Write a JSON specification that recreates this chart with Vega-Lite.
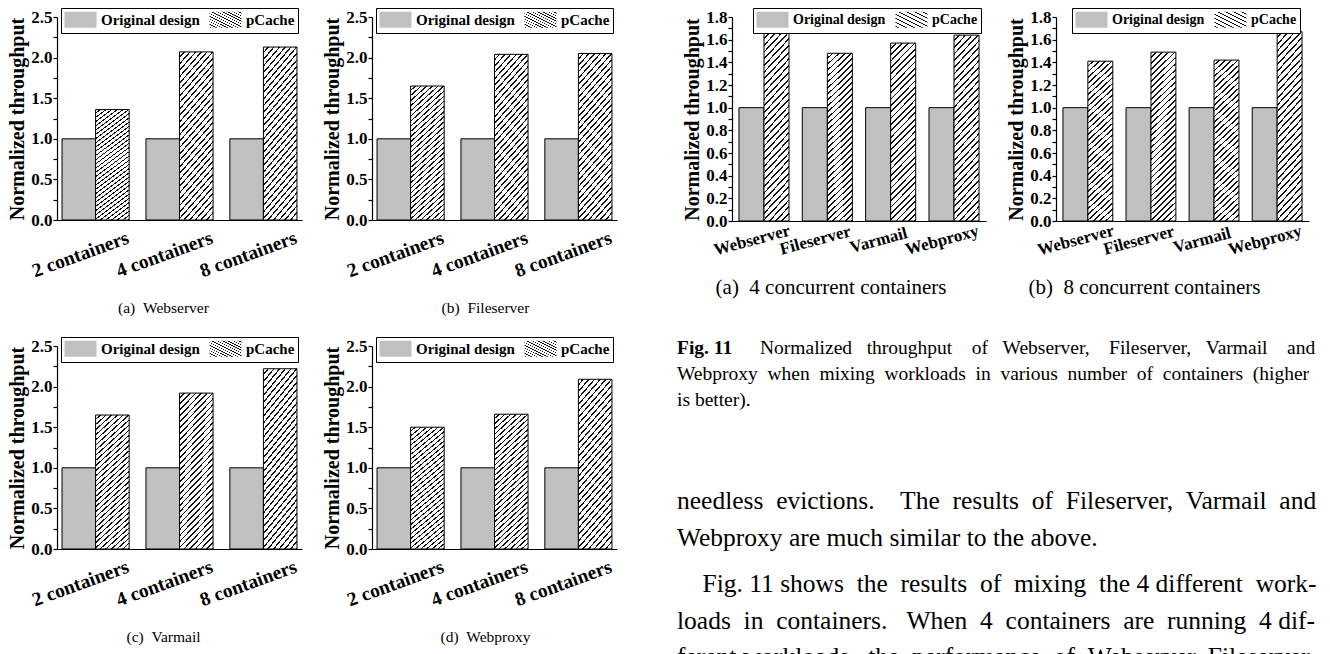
{
  "$schema": "https://vega.github.io/schema/vega-lite/v6.json",
  "background": "white",
  "padding": {"left": 7, "top": 7, "right": 0, "bottom": 0},
  "params": [
    {"name": "hatch10", "value": {"gradient": "linear", "x1": 0, "y1": 0, "x2": 0.265, "y2": 1.167, "stops": [
      {"offset":0,"color":"#fff"},{"offset":0.0225,"color":"#fff"},{"offset":0.0225,"color":"#111"},{"offset":0.03125,"color":"#111"},
      {"offset":0.03125,"color":"#fff"},{"offset":0.05375,"color":"#fff"},{"offset":0.05375,"color":"#111"},{"offset":0.0625,"color":"#111"},
      {"offset":0.0625,"color":"#fff"},{"offset":0.085,"color":"#fff"},{"offset":0.085,"color":"#111"},{"offset":0.09375,"color":"#111"},
      {"offset":0.09375,"color":"#fff"},{"offset":0.11625,"color":"#fff"},{"offset":0.11625,"color":"#111"},{"offset":0.125,"color":"#111"},
      {"offset":0.125,"color":"#fff"},{"offset":0.1475,"color":"#fff"},{"offset":0.1475,"color":"#111"},{"offset":0.15625,"color":"#111"},
      {"offset":0.15625,"color":"#fff"},{"offset":0.17875,"color":"#fff"},{"offset":0.17875,"color":"#111"},{"offset":0.1875,"color":"#111"},
      {"offset":0.1875,"color":"#fff"},{"offset":0.21,"color":"#fff"},{"offset":0.21,"color":"#111"},{"offset":0.21875,"color":"#111"},
      {"offset":0.21875,"color":"#fff"},{"offset":0.24125,"color":"#fff"},{"offset":0.24125,"color":"#111"},{"offset":0.25,"color":"#111"},
      {"offset":0.25,"color":"#fff"},{"offset":0.2725,"color":"#fff"},{"offset":0.2725,"color":"#111"},{"offset":0.28125,"color":"#111"},
      {"offset":0.28125,"color":"#fff"},{"offset":0.30375,"color":"#fff"},{"offset":0.30375,"color":"#111"},{"offset":0.3125,"color":"#111"},
      {"offset":0.3125,"color":"#fff"},{"offset":0.335,"color":"#fff"},{"offset":0.335,"color":"#111"},{"offset":0.34375,"color":"#111"},
      {"offset":0.34375,"color":"#fff"},{"offset":0.36625,"color":"#fff"},{"offset":0.36625,"color":"#111"},{"offset":0.375,"color":"#111"},
      {"offset":0.375,"color":"#fff"},{"offset":0.3975,"color":"#fff"},{"offset":0.3975,"color":"#111"},{"offset":0.40625,"color":"#111"},
      {"offset":0.40625,"color":"#fff"},{"offset":0.42875,"color":"#fff"},{"offset":0.42875,"color":"#111"},{"offset":0.4375,"color":"#111"},
      {"offset":0.4375,"color":"#fff"},{"offset":0.46,"color":"#fff"},{"offset":0.46,"color":"#111"},{"offset":0.46875,"color":"#111"},
      {"offset":0.46875,"color":"#fff"},{"offset":0.49125,"color":"#fff"},{"offset":0.49125,"color":"#111"},{"offset":0.5,"color":"#111"},
      {"offset":0.5,"color":"#fff"},{"offset":0.5225,"color":"#fff"},{"offset":0.5225,"color":"#111"},{"offset":0.53125,"color":"#111"},
      {"offset":0.53125,"color":"#fff"},{"offset":0.55375,"color":"#fff"},{"offset":0.55375,"color":"#111"},{"offset":0.5625,"color":"#111"},
      {"offset":0.5625,"color":"#fff"},{"offset":0.585,"color":"#fff"},{"offset":0.585,"color":"#111"},{"offset":0.59375,"color":"#111"},
      {"offset":0.59375,"color":"#fff"},{"offset":0.61625,"color":"#fff"},{"offset":0.61625,"color":"#111"},{"offset":0.625,"color":"#111"},
      {"offset":0.625,"color":"#fff"},{"offset":0.6475,"color":"#fff"},{"offset":0.6475,"color":"#111"},{"offset":0.65625,"color":"#111"},
      {"offset":0.65625,"color":"#fff"},{"offset":0.67875,"color":"#fff"},{"offset":0.67875,"color":"#111"},{"offset":0.6875,"color":"#111"},
      {"offset":0.6875,"color":"#fff"},{"offset":0.71,"color":"#fff"},{"offset":0.71,"color":"#111"},{"offset":0.71875,"color":"#111"},
      {"offset":0.71875,"color":"#fff"},{"offset":0.74125,"color":"#fff"},{"offset":0.74125,"color":"#111"},{"offset":0.75,"color":"#111"},
      {"offset":0.75,"color":"#fff"},{"offset":0.7725,"color":"#fff"},{"offset":0.7725,"color":"#111"},{"offset":0.78125,"color":"#111"},
      {"offset":0.78125,"color":"#fff"},{"offset":0.80375,"color":"#fff"},{"offset":0.80375,"color":"#111"},{"offset":0.8125,"color":"#111"},
      {"offset":0.8125,"color":"#fff"},{"offset":0.835,"color":"#fff"},{"offset":0.835,"color":"#111"},{"offset":0.84375,"color":"#111"},
      {"offset":0.84375,"color":"#fff"},{"offset":0.86625,"color":"#fff"},{"offset":0.86625,"color":"#111"},{"offset":0.875,"color":"#111"},
      {"offset":0.875,"color":"#fff"},{"offset":0.8975,"color":"#fff"},{"offset":0.8975,"color":"#111"},{"offset":0.90625,"color":"#111"},
      {"offset":0.90625,"color":"#fff"},{"offset":0.92875,"color":"#fff"},{"offset":0.92875,"color":"#111"},{"offset":0.9375,"color":"#111"},
      {"offset":0.9375,"color":"#fff"},{"offset":0.96,"color":"#fff"},{"offset":0.96,"color":"#111"},{"offset":0.96875,"color":"#111"},
      {"offset":0.96875,"color":"#fff"},{"offset":0.99125,"color":"#fff"},{"offset":0.99125,"color":"#111"},{"offset":1,"color":"#111"}
    ]}},
    {"name": "hatch11", "expr": "merge(hatch10, {x2: 0.16, y2: 1.12})"},
    {"name": "hatchLeg", "value": {"gradient": "linear", "x1": 0, "y1": 0, "x2": 1.2, "y2": 0.6, "stops": [
      {"offset":0,"color":"#fff"},{"offset":0.09,"color":"#fff"},{"offset":0.09,"color":"#111"},{"offset":0.125,"color":"#111"},
      {"offset":0.125,"color":"#fff"},{"offset":0.215,"color":"#fff"},{"offset":0.215,"color":"#111"},{"offset":0.25,"color":"#111"},
      {"offset":0.25,"color":"#fff"},{"offset":0.34,"color":"#fff"},{"offset":0.34,"color":"#111"},{"offset":0.375,"color":"#111"},
      {"offset":0.375,"color":"#fff"},{"offset":0.465,"color":"#fff"},{"offset":0.465,"color":"#111"},{"offset":0.5,"color":"#111"},
      {"offset":0.5,"color":"#fff"},{"offset":0.59,"color":"#fff"},{"offset":0.59,"color":"#111"},{"offset":0.625,"color":"#111"},
      {"offset":0.625,"color":"#fff"},{"offset":0.715,"color":"#fff"},{"offset":0.715,"color":"#111"},{"offset":0.75,"color":"#111"},
      {"offset":0.75,"color":"#fff"},{"offset":0.84,"color":"#fff"},{"offset":0.84,"color":"#111"},{"offset":0.875,"color":"#111"},
      {"offset":0.875,"color":"#fff"},{"offset":0.965,"color":"#fff"},{"offset":0.965,"color":"#111"},{"offset":1,"color":"#111"}
    ]}}
  ],
  "datasets": {
    "fig10": [
      {"workload":"Webserver","config":"2 containers","method":"Original design","value":1.0},
      {"workload":"Webserver","config":"2 containers","method":"pCache","value":1.36},
      {"workload":"Webserver","config":"4 containers","method":"Original design","value":1.0},
      {"workload":"Webserver","config":"4 containers","method":"pCache","value":2.07},
      {"workload":"Webserver","config":"8 containers","method":"Original design","value":1.0},
      {"workload":"Webserver","config":"8 containers","method":"pCache","value":2.13},
      {"workload":"Fileserver","config":"2 containers","method":"Original design","value":1.0},
      {"workload":"Fileserver","config":"2 containers","method":"pCache","value":1.65},
      {"workload":"Fileserver","config":"4 containers","method":"Original design","value":1.0},
      {"workload":"Fileserver","config":"4 containers","method":"pCache","value":2.04},
      {"workload":"Fileserver","config":"8 containers","method":"Original design","value":1.0},
      {"workload":"Fileserver","config":"8 containers","method":"pCache","value":2.05},
      {"workload":"Varmail","config":"2 containers","method":"Original design","value":1.0},
      {"workload":"Varmail","config":"2 containers","method":"pCache","value":1.65},
      {"workload":"Varmail","config":"4 containers","method":"Original design","value":1.0},
      {"workload":"Varmail","config":"4 containers","method":"pCache","value":1.92},
      {"workload":"Varmail","config":"8 containers","method":"Original design","value":1.0},
      {"workload":"Varmail","config":"8 containers","method":"pCache","value":2.22},
      {"workload":"Webproxy","config":"2 containers","method":"Original design","value":1.0},
      {"workload":"Webproxy","config":"2 containers","method":"pCache","value":1.5},
      {"workload":"Webproxy","config":"4 containers","method":"Original design","value":1.0},
      {"workload":"Webproxy","config":"4 containers","method":"pCache","value":1.66},
      {"workload":"Webproxy","config":"8 containers","method":"Original design","value":1.0},
      {"workload":"Webproxy","config":"8 containers","method":"pCache","value":2.09}
    ],
    "fig11": [
      {"set":"4","workload":"Webserver","method":"Original design","value":1.0},
      {"set":"4","workload":"Webserver","method":"pCache","value":1.66},
      {"set":"4","workload":"Fileserver","method":"Original design","value":1.0},
      {"set":"4","workload":"Fileserver","method":"pCache","value":1.48},
      {"set":"4","workload":"Varmail","method":"Original design","value":1.0},
      {"set":"4","workload":"Varmail","method":"pCache","value":1.57},
      {"set":"4","workload":"Webproxy","method":"Original design","value":1.0},
      {"set":"4","workload":"Webproxy","method":"pCache","value":1.64},
      {"set":"8","workload":"Webserver","method":"Original design","value":1.0},
      {"set":"8","workload":"Webserver","method":"pCache","value":1.41},
      {"set":"8","workload":"Fileserver","method":"Original design","value":1.0},
      {"set":"8","workload":"Fileserver","method":"pCache","value":1.49},
      {"set":"8","workload":"Varmail","method":"Original design","value":1.0},
      {"set":"8","workload":"Varmail","method":"pCache","value":1.42},
      {"set":"8","workload":"Webproxy","method":"Original design","value":1.0},
      {"set":"8","workload":"Webproxy","method":"pCache","value":1.67}
    ],
    "caption": [
      {"line":1,"lead":"Fig. 11","text":"Normalized \u00a0\u00a0throughput \u00a0\u00a0\u00a0of \u00a0\u00a0Webserver, \u00a0\u00a0\u00a0Fileserver, \u00a0\u00a0Varmail \u00a0\u00a0\u00a0and"},
      {"line":2,"lead":"","text":"Webproxy \u00a0when \u00a0mixing \u00a0workloads \u00a0in \u00a0various \u00a0number \u00a0of \u00a0containers \u00a0(higher"},
      {"line":3,"lead":"","text":"is better)."}
    ],
    "body": [
      {"para":1,"line":1,"text":"needless \u00a0evictions. \u00a0\u00a0\u00a0The \u00a0results \u00a0of \u00a0Fileserver, \u00a0Varmail \u00a0and"},
      {"para":1,"line":2,"text":"Webproxy are much similar to the above."},
      {"para":2,"line":3,"text":"\u200b\u00a0\u00a0\u00a0\u00a0Fig. 11 shows \u00a0the \u00a0results \u00a0of \u00a0mixing \u00a0the 4 different \u00a0work-"},
      {"para":2,"line":4,"text":"loads \u00a0in \u00a0containers. \u00a0\u00a0When \u00a04 \u00a0containers \u00a0are \u00a0running \u00a04 dif-"},
      {"para":2,"line":5,"text":"ferent workloads, \u00a0the \u00a0performance \u00a0of \u00a0Webserver, Fileserver,"}
    ]
  },
  "resolve": {"scale": {"color": "independent", "xOffset": "independent"}, "legend": {"color": "independent"}},
  "spacing": 60,
  "hconcat": [
    {
      "resolve": {"scale": {"color": "independent", "xOffset": "independent"}, "legend": {"color": "independent"}},
      "spacing": 19,
      "vconcat": [
        {
          "resolve": {"scale": {"color": "independent", "xOffset": "independent"}, "legend": {"color": "independent"}},
          "spacing": 20,
          "hconcat": [
            {
              "width": 245, "height": 203,
              "data": {"name": "fig10"},
              "transform": [{"filter": "datum.workload === 'Webserver'"}],
              "title": {"text": "(a)\u00a0\u00a0Webserver", "fontSize": 15.5, "dx": -16, "offset": 21},
              "mark": {"type": "bar", "stroke": "black", "strokeWidth": 1},
              "encoding": {
                "x": {"field": "config", "type": "nominal", "sort": ["2 containers","4 containers","8 containers"], "scale": {"paddingInner": 0.2, "paddingOuter": 0.06}, "axis": {"title": null, "labelAngle": -20, "labelAlign": "center", "labelBaseline": "middle", "labelPadding": 34, "labelOffset": -15, "labelFontSize": 19.5}},
                "xOffset": {"field": "method", "type": "nominal", "scale": {"domain": ["Original design","pCache"]}},
                "y": {"field": "value", "type": "quantitative", "scale": {"domain": [0, 2.5], "nice": false}, "axis": {"title": "Normalized throughput", "values": [0,0.25,0.5,0.75,1,1.25,1.5,1.75,2,2.25,2.5], "labelExpr": "datum.value % 0.5 === 0 ? format(datum.value, '.1f') : ''"}},
                "color": {"field": "method", "type": "nominal", "scale": {"domain": ["Original design","pCache"], "range": ["#c0c0c0", {"expr": "hatch10"}]}, "legend": {"legendX": 4, "legendY": -9, "encode": {"symbols": {"update": {"fill": {"value": {"expr": "datum.value === 'pCache' ? hatchLeg : '#c0c0c0'"}}}}}}}
              }
            },
            {
              "width": 245, "height": 203,
              "data": {"name": "fig10"},
              "transform": [{"filter": "datum.workload === 'Fileserver'"}],
              "title": {"text": "(b)\u00a0\u00a0Fileserver", "fontSize": 15.5, "dx": -9, "offset": 21},
              "mark": {"type": "bar", "stroke": "black", "strokeWidth": 1},
              "encoding": {
                "x": {"field": "config", "type": "nominal", "sort": ["2 containers","4 containers","8 containers"], "scale": {"paddingInner": 0.2, "paddingOuter": 0.06}, "axis": {"title": null, "labelAngle": -20, "labelAlign": "center", "labelBaseline": "middle", "labelPadding": 34, "labelOffset": -15, "labelFontSize": 19.5}},
                "xOffset": {"field": "method", "type": "nominal", "scale": {"domain": ["Original design","pCache"]}},
                "y": {"field": "value", "type": "quantitative", "scale": {"domain": [0, 2.5], "nice": false}, "axis": {"title": "Normalized throughput", "values": [0,0.25,0.5,0.75,1,1.25,1.5,1.75,2,2.25,2.5], "labelExpr": "datum.value % 0.5 === 0 ? format(datum.value, '.1f') : ''"}},
                "color": {"field": "method", "type": "nominal", "scale": {"domain": ["Original design","pCache"], "range": ["#c0c0c0", {"expr": "hatch10"}]}, "legend": {"legendX": 4, "legendY": -9, "encode": {"symbols": {"update": {"fill": {"value": {"expr": "datum.value === 'pCache' ? hatchLeg : '#c0c0c0'"}}}}}}}
              }
            }
          ]
        },
        {
          "resolve": {"scale": {"color": "independent", "xOffset": "independent"}, "legend": {"color": "independent"}},
          "spacing": 20,
          "hconcat": [
            {
              "width": 245, "height": 203,
              "data": {"name": "fig10"},
              "transform": [{"filter": "datum.workload === 'Varmail'"}],
              "title": {"text": "(c)\u00a0\u00a0Varmail", "fontSize": 15.5, "dx": -16, "offset": 21},
              "mark": {"type": "bar", "stroke": "black", "strokeWidth": 1},
              "encoding": {
                "x": {"field": "config", "type": "nominal", "sort": ["2 containers","4 containers","8 containers"], "scale": {"paddingInner": 0.2, "paddingOuter": 0.06}, "axis": {"title": null, "labelAngle": -20, "labelAlign": "center", "labelBaseline": "middle", "labelPadding": 34, "labelOffset": -15, "labelFontSize": 19.5}},
                "xOffset": {"field": "method", "type": "nominal", "scale": {"domain": ["Original design","pCache"]}},
                "y": {"field": "value", "type": "quantitative", "scale": {"domain": [0, 2.5], "nice": false}, "axis": {"title": "Normalized throughput", "values": [0,0.25,0.5,0.75,1,1.25,1.5,1.75,2,2.25,2.5], "labelExpr": "datum.value % 0.5 === 0 ? format(datum.value, '.1f') : ''"}},
                "color": {"field": "method", "type": "nominal", "scale": {"domain": ["Original design","pCache"], "range": ["#c0c0c0", {"expr": "hatch10"}]}, "legend": {"legendX": 4, "legendY": -9, "encode": {"symbols": {"update": {"fill": {"value": {"expr": "datum.value === 'pCache' ? hatchLeg : '#c0c0c0'"}}}}}}}
              }
            },
            {
              "width": 245, "height": 203,
              "data": {"name": "fig10"},
              "transform": [{"filter": "datum.workload === 'Webproxy'"}],
              "title": {"text": "(d)\u00a0\u00a0Webproxy", "fontSize": 15.5, "dx": -9, "offset": 21},
              "mark": {"type": "bar", "stroke": "black", "strokeWidth": 1},
              "encoding": {
                "x": {"field": "config", "type": "nominal", "sort": ["2 containers","4 containers","8 containers"], "scale": {"paddingInner": 0.2, "paddingOuter": 0.06}, "axis": {"title": null, "labelAngle": -20, "labelAlign": "center", "labelBaseline": "middle", "labelPadding": 34, "labelOffset": -15, "labelFontSize": 19.5}},
                "xOffset": {"field": "method", "type": "nominal", "scale": {"domain": ["Original design","pCache"]}},
                "y": {"field": "value", "type": "quantitative", "scale": {"domain": [0, 2.5], "nice": false}, "axis": {"title": "Normalized throughput", "values": [0,0.25,0.5,0.75,1,1.25,1.5,1.75,2,2.25,2.5], "labelExpr": "datum.value % 0.5 === 0 ? format(datum.value, '.1f') : ''"}},
                "color": {"field": "method", "type": "nominal", "scale": {"domain": ["Original design","pCache"], "range": ["#c0c0c0", {"expr": "hatch10"}]}, "legend": {"legendX": 4, "legendY": -9, "encode": {"symbols": {"update": {"fill": {"value": {"expr": "datum.value === 'pCache' ? hatchLeg : '#c0c0c0'"}}}}}}}
              }
            }
          ]
        }
      ]
    },
    {
      "resolve": {"scale": {"color": "independent", "xOffset": "independent"}, "legend": {"color": "independent"}},
      "center": true,
      "spacing": 37,
      "vconcat": [
        {
          "resolve": {"scale": {"color": "independent", "xOffset": "independent"}, "legend": {"color": "independent"}},
          "spacing": 20,
          "hconcat": [
            {
              "width": 254, "height": 204,
              "data": {"name": "fig11"},
              "transform": [{"filter": "datum.set === '4'"}],
              "title": {"text": "(a)\u00a0\u00a04 concurrent containers", "fontSize": 21, "dx": -28, "offset": 19},
              "mark": {"type": "bar", "stroke": "black", "strokeWidth": 1},
              "encoding": {
                "x": {"field": "workload", "type": "nominal", "sort": ["Webserver","Fileserver","Varmail","Webproxy"], "scale": {"paddingInner": 0.21, "paddingOuter": 0.11}, "axis": {"title": null, "labelAngle": -15, "labelAlign": "center", "labelBaseline": "middle", "labelPadding": 19, "labelOffset": -12, "labelFontSize": 17}},
                "xOffset": {"field": "method", "type": "nominal", "scale": {"domain": ["Original design","pCache"]}},
                "y": {"field": "value", "type": "quantitative", "scale": {"domain": [0, 1.8], "nice": false}, "axis": {"title": "Normalized throughput", "values": [0,0.1,0.2,0.3,0.4,0.5,0.6,0.7,0.8,0.9,1,1.1,1.2,1.3,1.4,1.5,1.6,1.7,1.8], "labelExpr": "round(datum.value*10) % 2 === 0 ? format(datum.value, '.1f') : ''"}},
                "color": {"field": "method", "type": "nominal", "scale": {"domain": ["Original design","pCache"], "range": ["#c0c0c0", {"expr": "hatch11"}]}, "legend": {"legendX": 21, "legendY": -9, "labelFontSize": 14, "encode": {"symbols": {"update": {"fill": {"value": {"expr": "datum.value === 'pCache' ? hatchLeg : '#c0c0c0'"}}}}}}}
              }
            },
            {
              "width": 253, "height": 204,
              "data": {"name": "fig11"},
              "transform": [{"filter": "datum.set === '8'"}],
              "title": {"text": "(b)\u00a0\u00a08 concurrent containers", "fontSize": 21, "dx": -38, "offset": 19},
              "mark": {"type": "bar", "stroke": "black", "strokeWidth": 1},
              "encoding": {
                "x": {"field": "workload", "type": "nominal", "sort": ["Webserver","Fileserver","Varmail","Webproxy"], "scale": {"paddingInner": 0.21, "paddingOuter": 0.11}, "axis": {"title": null, "labelAngle": -15, "labelAlign": "center", "labelBaseline": "middle", "labelPadding": 19, "labelOffset": -12, "labelFontSize": 17}},
                "xOffset": {"field": "method", "type": "nominal", "scale": {"domain": ["Original design","pCache"]}},
                "y": {"field": "value", "type": "quantitative", "scale": {"domain": [0, 1.8], "nice": false}, "axis": {"title": "Normalized throughput", "values": [0,0.1,0.2,0.3,0.4,0.5,0.6,0.7,0.8,0.9,1,1.1,1.2,1.3,1.4,1.5,1.6,1.7,1.8], "labelExpr": "round(datum.value*10) % 2 === 0 ? format(datum.value, '.1f') : ''"}},
                "color": {"field": "method", "type": "nominal", "scale": {"domain": ["Original design","pCache"], "range": ["#c0c0c0", {"expr": "hatch11"}]}, "legend": {"legendX": 16, "legendY": -9, "labelFontSize": 14, "encode": {"symbols": {"update": {"fill": {"value": {"expr": "datum.value === 'pCache' ? hatchLeg : '#c0c0c0'"}}}}}}}
              }
            }
          ]
        },
        {
          "spacing": 70,
          "vconcat": [
            {
              "width": 687, "height": 78,
              "data": {"name": "caption"},
              "encoding": {
                "x": {"datum": 0, "type": "quantitative", "scale": {"domain": [0, 1]}, "axis": null},
                "y": {"field": "line", "type": "ordinal", "scale": {"type": "point", "padding": 0.5}, "axis": null}
              },
              "layer": [
                {"transform": [{"filter": "datum.line !== 1"}], "mark": {"type": "text", "align": "left", "baseline": "middle", "fontSize": 19.5}, "encoding": {"text": {"field": "text"}}},
                {"transform": [{"filter": "datum.line === 1"}], "mark": {"type": "text", "align": "left", "baseline": "middle", "fontSize": 19.5, "fontWeight": "bold"}, "encoding": {"text": {"field": "lead"}}},
                {"transform": [{"filter": "datum.line === 1"}], "mark": {"type": "text", "align": "left", "baseline": "middle", "fontSize": 19.5, "dx": 83}, "encoding": {"text": {"field": "text"}}}
              ]
            },
            {
              "spacing": 10,
              "vconcat": [
                {
                  "width": 687, "height": 73,
                  "data": {"name": "body"},
                  "transform": [{"filter": "datum.para === 1"}],
                  "mark": {"type": "text", "align": "left", "baseline": "middle", "fontSize": 25.5},
                  "encoding": {
                    "x": {"datum": 0, "type": "quantitative", "scale": {"domain": [0, 1]}, "axis": null},
                    "y": {"field": "line", "type": "ordinal", "scale": {"type": "point", "padding": 0.5}, "axis": null},
                    "text": {"field": "text"}
                  }
                },
                {
                  "width": 687, "height": 109.5,
                  "data": {"name": "body"},
                  "transform": [{"filter": "datum.para === 2"}],
                  "mark": {"type": "text", "align": "left", "baseline": "middle", "fontSize": 25.5},
                  "encoding": {
                    "x": {"datum": 0, "type": "quantitative", "scale": {"domain": [0, 1]}, "axis": null},
                    "y": {"field": "line", "type": "ordinal", "scale": {"type": "point", "padding": 0.5}, "axis": null},
                    "text": {"field": "text"}
                  }
                }
              ]
            }
          ]
        }
      ]
    }
  ],
  "config": {
    "view": {"stroke": null},
    "font": "Liberation Serif",
    "axis": {"domainColor": "black", "tickColor": "black", "labelColor": "black", "titleColor": "black", "labelFont": "Liberation Serif", "titleFont": "Liberation Serif", "labelFontWeight": "bold", "titleFontWeight": "bold", "grid": false, "domainWidth": 1.2, "tickWidth": 1.2},
    "axisY": {"labelFontSize": 17, "titleFontSize": 20, "tickSize": 4, "labelPadding": 1, "titlePadding": 3, "labelOverlap": false},
    "axisX": {"ticks": false, "tickSize": 0, "labelOverlap": false},
    "legend": {"orient": "none", "direction": "horizontal", "title": null, "strokeColor": "black", "fillColor": "white", "padding": 3, "symbolType": "M-2,-1H2V1H-2Z", "symbolSize": 256, "symbolStrokeColor": "black", "symbolStrokeWidth": 1, "symbolOffset": 8, "labelOffset": 12, "labelFont": "Liberation Serif", "labelFontWeight": "bold", "labelFontSize": 15, "labelColor": "black", "columnPadding": 7},
    "title": {"font": "Liberation Serif", "fontWeight": "normal", "color": "black", "orient": "bottom", "anchor": "middle", "frame": "group"},
    "text": {"font": "Liberation Serif", "color": "black"}
  }
}
